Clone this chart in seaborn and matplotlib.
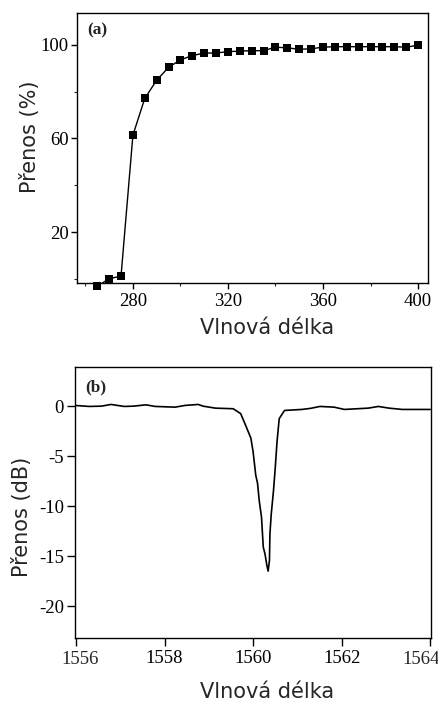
import matplotlib
matplotlib.use("Agg")
import matplotlib.pyplot as plt
from matplotlib.ticker import FixedLocator, FixedFormatter
import seaborn as sns
import pandas as pd

# (a) prenos v zavislosti na vlnove delce
vlna_a = [265, 270, 275, 280, 285, 290, 295, 300, 305, 310, 315, 320, 325, 330,
          335, 340, 345, 350, 355, 360, 365, 370, 375, 380, 385, 390, 395, 400]
prenos_a = [-3.0, 0.3, 1.4, 61.4, 77.1, 84.8, 90.3, 93.5, 95.3, 96.4, 96.4, 97.0,
            97.2, 97.4, 97.4, 98.9, 98.6, 98.0, 98.2, 98.9, 99.1, 99.1, 99.1,
            99.1, 99.1, 99.1, 98.9, 99.7]

# (b) spektrum v okoli 1560 nm
vlna_b = [1555.98, 1556.30, 1556.58, 1556.79, 1557.09, 1557.30, 1557.58, 1557.79,
          1558.24, 1558.46, 1558.76, 1558.87, 1559.15, 1559.55, 1559.72, 1559.83,
          1559.95, 1560.00, 1560.06, 1560.10, 1560.14, 1560.19, 1560.23, 1560.27,
          1560.31, 1560.34, 1560.37, 1560.38, 1560.41, 1560.46, 1560.50, 1560.54,
          1560.59, 1560.71, 1561.10, 1561.30, 1561.51, 1561.83, 1562.06, 1562.60,
          1562.83, 1563.07, 1563.37, 1564.00]
prenos_b = [0.07, -0.03, 0.0, 0.17, -0.03, 0.0, 0.13, -0.03,
            -0.10, 0.07, 0.17, 0.0, -0.2, -0.26, -0.75, -1.9,
            -3.2, -4.55, -6.9, -7.7, -9.5, -11.1, -14.1, -14.8,
            -15.9, -16.5, -15.4, -12.8, -10.8, -8.5, -6.2, -3.6,
            -1.25, -0.43, -0.33, -0.22, -0.03, -0.1, -0.33, -0.2,
            -0.03, -0.2, -0.33, -0.33]

ticks_b = [1556, 1558, 1560, 1562, 1564]
ticklabels_b = ["1556", "1558", "1560", "1562", "1564"]
yticks_b = [0, -5, -10, -15, -20]
yticklabels_b = ["0", "-5", "-10", "-15", "-20"]

df_a = pd.DataFrame({"vlna": vlna_a, "prenos": prenos_a})
df_b = pd.DataFrame({"vlna": vlna_b, "prenos": prenos_b})

sns.set_theme(style="ticks")
plt.rcParams["font.family"] = ["Liberation Serif", "DejaVu Serif"]
plt.rcParams["axes.edgecolor"] = "black"
plt.rcParams["axes.linewidth"] = 1.0

fig = plt.figure(figsize=(4.39, 7.02), dpi=100)
ax1 = fig.add_axes([0.175, 0.597, 0.800, 0.385])
ax2 = fig.add_axes([0.171, 0.091, 0.811, 0.386])

label_font = {"family": "DejaVu Sans", "size": 15}
tick_size = 13.5

# graf (a)
sns.lineplot(data=df_a, x="vlna", y="prenos", ax=ax1, color="black", linewidth=1.0)
sns.scatterplot(data=df_a, x="vlna", y="prenos", ax=ax1, color="black", marker="s",
                s=34, edgecolor="black", linewidth=0, clip_on=False, zorder=3)
ax1.set_xlim(256.4, 404.2)
ax1.set_ylim(-1.5, 113.6)
ax1.xaxis.set_major_locator(FixedLocator([280, 320, 360, 400]))
ax1.xaxis.set_minor_locator(FixedLocator([260, 300, 340, 380]))
ax1.yaxis.set_major_locator(FixedLocator([20, 60, 100]))
ax1.yaxis.set_minor_locator(FixedLocator([0, 40, 80]))
ax1.set_xlabel("Vlnová délka", fontdict=label_font)
ax1.set_ylabel("Přenos (%)", fontdict=label_font)
ax1.xaxis.set_label_coords(0.543, -0.128)
ax1.yaxis.set_label_coords(-0.105, 0.54)
ax1.text(0.03, 0.965, "(a)", transform=ax1.transAxes, ha="left", va="top",
         fontsize=12.5, fontweight="bold")

# graf (b)
sns.lineplot(data=df_b, x="vlna", y="prenos", ax=ax2, color="black", linewidth=1.2)
ax2.set_xlim(1555.98, 1564.02)
ax2.set_ylim(-23.2, 3.9)
# krajni popisky (1556, 1564) jsou v predloze posunute dovnitr, kreslime je zvlast
ax2.xaxis.set_major_locator(FixedLocator(ticks_b))
ax2.xaxis.set_major_formatter(FixedFormatter([""] + ticklabels_b[1:-1] + [""]))
ax2.yaxis.set_major_locator(FixedLocator(yticks_b))
ax2.yaxis.set_major_formatter(FixedFormatter(yticklabels_b))
for pos, lab, dx in ((ticks_b[0], ticklabels_b[0], 3), (ticks_b[-1], ticklabels_b[-1], -6.5)):
    ax2.annotate(lab, xy=(pos, 0), xycoords=("data", "axes fraction"),
                 xytext=(dx, -9.0), textcoords="offset points",
                 ha="center", va="top", fontsize=tick_size, annotation_clip=False)
ax2.set_xlabel("Vlnová délka", fontdict=label_font)
ax2.set_ylabel("Přenos (dB)", fontdict=label_font)
ax2.xaxis.set_label_coords(0.539, -0.162)
ax2.yaxis.set_label_coords(-0.121, 0.446)
ax2.text(0.03, 0.955, "(b)", transform=ax2.transAxes, ha="left", va="top",
         fontsize=12.5, fontweight="bold")

for ax in (ax1, ax2):
    for side in ("top", "right", "left", "bottom"):
        ax.spines[side].set_visible(True)
        ax.spines[side].set_color("black")
    ax.tick_params(which="major", direction="out", width=1.0,
                   labelsize=tick_size, colors="black")
    ax.tick_params(which="minor", direction="out", length=2.5, width=0.8)
    ax.grid(False)

ax1.tick_params(axis="x", which="major", length=4, pad=3)
ax1.tick_params(axis="y", which="major", length=4.5, pad=1.5)
ax2.tick_params(axis="x", which="major", length=5.5, pad=3)
ax2.tick_params(axis="y", which="major", length=5.5, pad=2.5)

fig.savefig("out.png", dpi=100)
